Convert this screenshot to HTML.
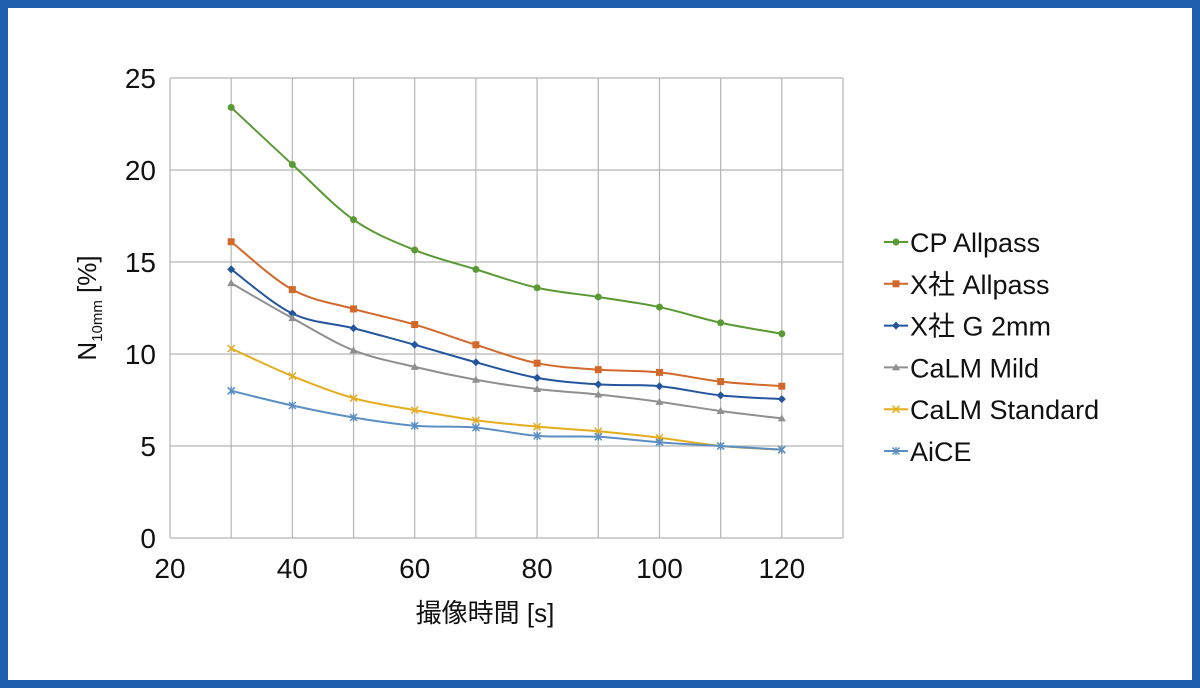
<!DOCTYPE html>
<html><head><meta charset="utf-8"><style>
html,body{margin:0;padding:0;background:#fff}
#frame{position:absolute;left:0;top:0;width:1184px;height:672px;border:8px solid #1f5fae;background:#fff}
svg{position:absolute;left:0;top:0}
text{font-family:"Liberation Sans","Noto Sans CJK JP",sans-serif;fill:#111}
</style></head><body>
<div id="frame"></div>
<svg id="chart" width="1200" height="688"></svg>
<script>
const categories=[30,40,50,60,70,80,90,100,110,120];
const xTicks=[20,40,60,80,100,120];
const yTicks=[0,5,10,15,20,25];
const seriesNames=["CP Allpass","X社 Allpass","X社 G 2mm","CaLM Mild","CaLM Standard","AiCE"];
const cpAllpass=[23.4,20.3,17.3,15.65,14.6,13.6,13.1,12.55,11.7,11.1];
const xAllpass=[16.1,13.5,12.45,11.6,10.5,9.5,9.15,9.0,8.5,8.25];
const xG2mm=[14.6,12.2,11.4,10.5,9.55,8.7,8.35,8.25,7.75,7.55];
const calmMild=[13.85,11.95,10.2,9.3,8.6,8.1,7.8,7.4,6.9,6.5];
const calmStandard=[10.3,8.8,7.6,6.95,6.4,6.05,5.8,5.45,5.0,4.8];
const aice=[8.0,7.2,6.55,6.1,6.0,5.55,5.5,5.2,5.0,4.8];
const allSeries=[cpAllpass,xAllpass,xG2mm,calmMild,calmStandard,aice];
const colors=["#5a9a35","#d2692a","#24569e","#8f8f8f","#e5ad1c","#5b8fc4"];
const markers=["circle","square","diamond","triangle","x","star"];
const NS="http://www.w3.org/2000/svg";
const svg=document.getElementById('chart');
const X0=170,X1=843,Y0=538,Y1=78;
const xs=v=>X0+(v-20)/(130-20)*(X1-X0);
const ys=v=>Y0-(v/25)*(Y0-Y1);
function mk(t,a){const e=document.createElementNS(NS,t);for(const k in a)e.setAttribute(k,a[k]);svg.appendChild(e);return e;}
// grid
for(let v=20;v<=130;v+=10){const g=mk('line',{x1:xs(v),x2:xs(v),y1:Y1,y2:Y0,stroke:'#b5b5b5','stroke-width':1.2});
}
yTicks.forEach(v=>{const g=mk('line',{x1:X0,x2:X1,y1:ys(v),y2:ys(v),stroke:'#b5b5b5','stroke-width':1.2});

const t=mk('text',{x:X0-14,y:ys(v)+10,'text-anchor':'end','font-size':28});t.textContent=v;
});
xTicks.forEach(v=>{const t=mk('text',{x:xs(v),y:578,'text-anchor':'middle','font-size':28});t.textContent=v;
});
const xt=mk('text',{x:485,y:622,'text-anchor':'middle','font-size':26});xt.textContent='撮像時間 [s]';

const yt=mk('text',{transform:'translate(96,308) rotate(-90)','text-anchor':'middle','font-size':26});
yt.innerHTML='N<tspan font-size="15" dy="6">10mm</tspan><tspan dy="-6"> [%]</tspan>';

function marker(type,x,y,c){let e;
if(type==='circle')e=mk('circle',{cx:x,cy:y,r:3.5,fill:c});
else if(type==='square')e=mk('rect',{x:x-3.5,y:y-3.5,width:7,height:7,fill:c});
else if(type==='diamond')e=mk('path',{d:`M${x} ${y-4}L${x+4} ${y}L${x} ${y+4}L${x-4} ${y}Z`,fill:c});
else if(type==='triangle')e=mk('path',{d:`M${x} ${y-4}L${x+4} ${y+3}L${x-4} ${y+3}Z`,fill:c});
else if(type==='x')e=mk('path',{d:`M${x-3.5} ${y-3.5}L${x+3.5} ${y+3.5}M${x+3.5} ${y-3.5}L${x-3.5} ${y+3.5}`,stroke:c,'stroke-width':1.5});
else e=mk('path',{d:`M${x-3.5} ${y-3.5}L${x+3.5} ${y+3.5}M${x+3.5} ${y-3.5}L${x-3.5} ${y+3.5}M${x} ${y-4}L${x} ${y+4}`,stroke:c,'stroke-width':1.5});
return e;}
function smooth(p){let d=`M${p[0][0]} ${p[0][1]}`;for(let i=0;i<p.length-1;i++){const a=p[i-1]||p[i],b=p[i],c=p[i+1],e=p[i+2]||c;
d+=` C${b[0]+(c[0]-a[0])/6} ${b[1]+(c[1]-a[1])/6} ${c[0]-(e[0]-b[0])/6} ${c[1]-(e[1]-b[1])/6} ${c[0]} ${c[1]}`;}return d;}
allSeries.forEach((s,i)=>{const pts=s.map((v,j)=>[xs(categories[j]),ys(v)]);
const l=mk('path',{d:smooth(pts),fill:'none',stroke:colors[i],'stroke-width':2});

pts.forEach(p=>{const m=marker(markers[i],p[0],p[1],colors[i]);});
const ly=242+i*41.8;
const ll=mk('line',{x1:884,x2:908,y1:ly,y2:ly,stroke:colors[i],'stroke-width':2});

const lm=marker(markers[i],896,ly,colors[i]);
const t=mk('text',{x:910,y:ly+10,'font-size':27});t.textContent=seriesNames[i];
});
</script>
</body></html>
